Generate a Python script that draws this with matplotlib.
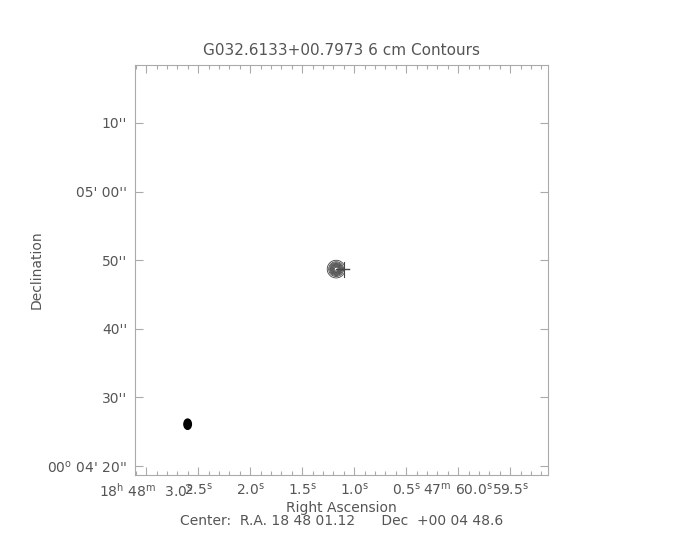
import numpy as np
import matplotlib
matplotlib.use("Agg")
import matplotlib.pyplot as plt
from matplotlib.patches import Ellipse
from matplotlib.ticker import FixedLocator, MultipleLocator

plt.rcParams['font.family'] = ['DejaVu Sans']
plt.rcParams['mathtext.fontset'] = 'dejavusans'

# ---- data ----
title = "G032.6133+00.7973 6 cm Contours"
# RA in seconds after 18h48m (negative = 47m 60s - x), Dec in arcsec after 00d04'
ra_limits = [3.103, -0.863]
dec_limits = [18.7, 78.5]
ra_ticks = [3.0, 2.5, 2.0, 1.5, 1.0, 0.5, 0.0, -0.5]
ra_tick_labels = [r'$\mathregular{18^h\ 48^m\ \ 3.0^s}$', r'$\mathregular{2.5^s}$',
                  r'$\mathregular{2.0^s}$', r'$\mathregular{1.5^s}$', r'$\mathregular{1.0^s}$',
                  r'$\mathregular{0.5^s}$', r'$\mathregular{47^m\ 60.0^s}$', r'$\mathregular{59.5^s}$']
dec_ticks = [20, 30, 40, 50, 60, 70]
dec_tick_labels = [r"$\mathregular{00^o}$ 04' 20''", "30''", "40''", "50''", "05' 00''", "10''"]

# source model (peak position, widths), contour levels, edge of mapped data
src_ra, src_dec = 1.173, 48.7
src_sig_ra, src_sig_dec = 0.04, 0.6
contour_levels = [0.1, 0.2, 0.3, 0.4, 0.5, 0.6, 0.7, 0.8, 0.9]
data_edge_ra = 1.096
edge_dec = [47.6, 49.8]
marker_ra = [1.173, 1.046]
marker_dec = [48.75, 48.75]

# beam
beam_ra, beam_dec = 2.601, 26.1
beam_w, beam_h = 0.072, 1.5

center_text = "Center:  R.A. 18 48 01.12      Dec  +00 04 48.6"

# ---- plot ----
fig = plt.figure(figsize=(6.84, 5.40), dpi=100)
ax = fig.add_axes([0.198, 0.1204, 0.603, 0.760])

axcol = '#aaaaaa'
txtcol = '#555555'

ra_grid = np.linspace(src_ra + 0.15, data_edge_ra, 200)
dec_grid = np.linspace(src_dec - 2.5, src_dec + 2.5, 200)
RA, DEC = np.meshgrid(ra_grid, dec_grid)
img = np.exp(-0.5 * (((RA - src_ra) / src_sig_ra) ** 2 + ((DEC - src_dec) / src_sig_dec) ** 2))
ax.contour(RA, DEC, img, levels=contour_levels, colors='#444444', linewidths=0.6)
ax.plot([data_edge_ra, data_edge_ra], edge_dec, color='#444444', lw=0.8)
ax.plot(marker_ra, marker_dec, color='#444444', lw=1.0)

ax.add_patch(Ellipse((beam_ra, beam_dec), beam_w, beam_h, color='black'))

ax.set_xlim(ra_limits)
ax.set_ylim(dec_limits)

ax.xaxis.set_major_locator(FixedLocator(ra_ticks))
ax.set_xticklabels(ra_tick_labels)
ax.xaxis.set_minor_locator(MultipleLocator(0.1))
ax.yaxis.set_major_locator(FixedLocator(dec_ticks))
ax.set_yticklabels(dec_tick_labels)

ax.tick_params(axis='both', which='both', direction='in', top=True, right=True,
               color=axcol, width=0.8, labelcolor=txtcol, labelsize=10)
ax.tick_params(axis='both', which='major', length=6)
ax.tick_params(axis='x', which='minor', length=3)
ax.tick_params(axis='y', which='minor', left=False, right=False)
ax.tick_params(axis='x', pad=5)
ax.tick_params(axis='y', pad=6)
for s in ax.spines.values():
    s.set_color(axcol)
    s.set_linewidth(0.8)

ax.set_title(title, color=txtcol, fontsize=11, pad=7)
ax.set_xlabel("Right Ascension", color=txtcol, fontsize=10, labelpad=1)
ax.set_ylabel("Declination", color=txtcol, fontsize=10)
ax.yaxis.set_label_coords(-0.222, 0.5)
fig.text(0.5, 1 - 521 / 540, center_text, color=txtcol, fontsize=10, ha='center', va='center')

fig.savefig("out.png", dpi=100)
